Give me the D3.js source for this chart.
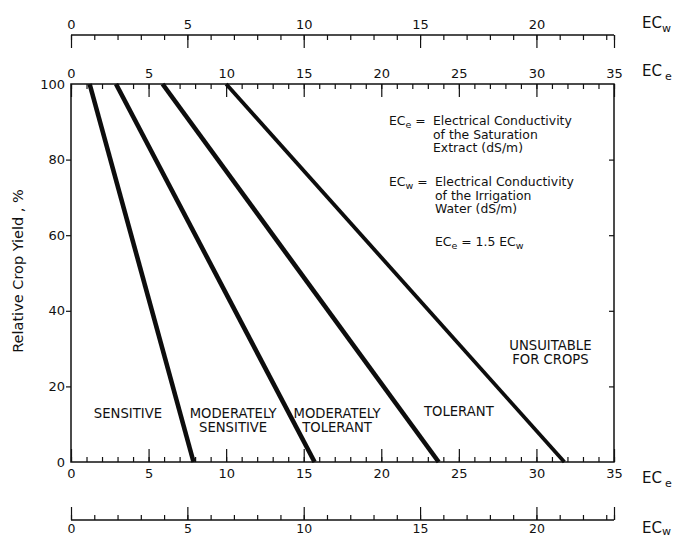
<!DOCTYPE html>
<html>
<head>
<meta charset="utf-8">
<script src="https://cdn.jsdelivr.net/npm/d3@7"></script>
<style>
  html, body { margin: 0; padding: 0; background: #fff; }
  svg { display: block; }
  text { font-family: "DejaVu Sans", sans-serif; fill: #111; }
</style>
</head>
<body>
<svg id="chart" width="674" height="539"></svg>
<script>
/* Crop tolerance to salinity: relative yield vs ECe / ECw */

// classes and the ECe (dS/m) where each boundary line hits 100 % and 0 % yield
const classes = ['Sensitive', 'Moderately sensitive', 'Moderately tolerant', 'Tolerant'];
const ecAt100 = [1.2, 2.9, 5.9, 10.0];
const ecAt0 = [7.9, 15.7, 23.7, 31.8];

const yieldTicks = [0, 20, 40, 60, 80, 100];
const eceLabels = [0, 5, 10, 15, 20, 25, 30, 35];
const ecwLabels = [0, 5, 10, 15, 20];
const ECE_PER_ECW = 1.5;

const regionNames = [
    ['SENSITIVE'],
    ['MODERATELY', 'SENSITIVE'],
    ['MODERATELY', 'TOLERANT'],
    ['TOLERANT'],
    ['UNSUITABLE', 'FOR CROPS'],
];

const W = 674, H = 539;
const LEFT = 71, RIGHT = 614, TOP = 84, BOTTOM = 462;
const MINOR = 5, MAJOR = 13;

const svg = d3.select('#chart');
const x = d3.scaleLinear().domain([0, 35]).range([LEFT, RIGHT]);
const xw = d3.scaleLinear().domain([0, 35 / ECE_PER_ECW]).range([LEFT, RIGHT]);
const y = d3.scaleLinear().domain([0, 100]).range([BOTTOM, TOP]);

const eceMinor = d3.range(0, 36, 1);
const ecwMinor = d3.range(0, 24, 1).concat([35 / ECE_PER_ECW]);
const ecwMajor = [0, 5, 10, 15, 20, 35 / ECE_PER_ECW];

function tickAxis(g, axis) {
    g.call(axis);
    g.select('.domain').remove();
    g.selectAll('.tick line').attr('stroke', '#111').attr('stroke-width', 1.2);
    g.selectAll('.tick text').remove();
}

function labelAxis(g, axis, size) {
    g.call(axis);
    g.select('.domain').remove();
    g.selectAll('.tick line').remove();
    g.selectAll('.tick text')
        .attr('font-size', size)
        .attr('fill', '#111');
}

/* Frame of the plot */
svg.append('rect')
    .attr('x', LEFT).attr('y', TOP)
    .attr('width', RIGHT - LEFT).attr('height', BOTTOM - TOP)
    .attr('fill', 'none').attr('stroke', '#111').attr('stroke-width', 1.5);

/* ECe ticks on top edge (pointing down) and bottom edge (pointing up) */
svg.append('g').attr('transform', `translate(0,${TOP})`)
    .call(tickAxis, d3.axisBottom(x).tickValues(eceMinor).tickSize(MINOR));
svg.append('g').attr('transform', `translate(0,${TOP})`)
    .call(tickAxis, d3.axisBottom(x).tickValues(eceLabels).tickSize(MAJOR));
svg.append('g').attr('transform', `translate(0,${BOTTOM})`)
    .call(tickAxis, d3.axisTop(x).tickValues(eceMinor).tickSize(MINOR));
svg.append('g').attr('transform', `translate(0,${BOTTOM})`)
    .call(tickAxis, d3.axisTop(x).tickValues(eceLabels).tickSize(MAJOR));

svg.append('g').attr('transform', `translate(0,${TOP - 6})`)
    .call(labelAxis, d3.axisTop(x).tickValues(eceLabels).tickSize(0).tickPadding(0), 13);
svg.append('g').attr('transform', `translate(0,${BOTTOM + 7})`)
    .call(labelAxis, d3.axisBottom(x).tickValues(eceLabels).tickSize(0).tickPadding(0), 13);

/* Yield axis: outer ticks on the left, inner ticks on the right */
svg.append('g').attr('transform', `translate(${LEFT},0)`)
    .call(tickAxis, d3.axisLeft(y).tickValues(yieldTicks.slice(1, -1)).tickSize(5));
svg.append('g').attr('transform', `translate(${RIGHT},0)`)
    .call(tickAxis, d3.axisLeft(y).tickValues(yieldTicks.slice(1, -1)).tickSize(5));
svg.append('g').attr('transform', `translate(${LEFT - 6},0)`)
    .call(labelAxis, d3.axisLeft(y).tickValues(yieldTicks).tickSize(0).tickPadding(0), 13);

/* ECw scales, above and below the plot */
const ECW_TOP = 35, ECW_BOTTOM = 520;
[[ECW_TOP, d3.axisBottom], [ECW_BOTTOM, d3.axisTop]].forEach(([yy, mk]) => {
    svg.append('line')
        .attr('x1', LEFT).attr('x2', RIGHT).attr('y1', yy).attr('y2', yy)
        .attr('stroke', '#111').attr('stroke-width', 1.5);
    svg.append('g').attr('transform', `translate(0,${yy})`)
        .call(tickAxis, mk(xw).tickValues(ecwMinor).tickSize(MINOR));
    svg.append('g').attr('transform', `translate(0,${yy})`)
        .call(tickAxis, mk(xw).tickValues(ecwMajor).tickSize(MAJOR));
});
svg.append('g').attr('transform', `translate(0,${ECW_TOP - 6})`)
    .call(labelAxis, d3.axisTop(xw).tickValues(ecwLabels).tickSize(0).tickPadding(0), 13);
svg.append('g').attr('transform', `translate(0,${ECW_BOTTOM + 4})`)
    .call(labelAxis, d3.axisBottom(xw).tickValues(ecwLabels).tickSize(0).tickPadding(0), 12.5);

/* EC unit labels at the right */
function ecLabel(yy, sub, subGap, subDy) {
    const t = svg.append('text').attr('x', 642).attr('y', yy).attr('font-size', 15);
    t.append('tspan').text('EC');
    t.append('tspan').attr('dx', subGap).attr('dy', subDy).attr('font-size', 11).text(sub);
}
ecLabel(28, 'w', 0, 4);
ecLabel(76, 'e', 3, 4);
ecLabel(483, 'e', 3, 4);
ecLabel(533, 'w', 0, 2);

/* Y title */
svg.append('text')
    .attr('transform', `translate(23,${(TOP + BOTTOM) / 2 - 2}) rotate(-90)`)
    .attr('text-anchor', 'middle')
    .attr('font-size', 14.5)
    .text('Relative  Crop Yield , %');

/* Class boundary lines */
const line = d3.line().x(d => x(d[0])).y(d => y(d[1]));
svg.append('g').selectAll('path')
    .data(classes.map((c, i) => [[ecAt100[i], 100], [ecAt0[i], 0]]))
    .join('path')
    .attr('d', line)
    .attr('fill', 'none')
    .attr('stroke', '#0d0d0d')
    .attr('stroke-width', (d, i) => i === 3 ? 3.8 : 4.6);

/* Region names, placed in ECe / yield units */
const regionPos = [[3.67, 11.6], [10.45, 11.6], [17.15, 11.6], [25.0, 12.1], [30.9, 29.6]];
regionNames.forEach((lines, i) => {
    const t = svg.append('text')
        .attr('x', x(regionPos[i][0]))
        .attr('y', y(regionPos[i][1]))
        .attr('text-anchor', 'middle')
        .attr('font-size', 13.2);
    lines.forEach((s, j) => {
        t.append('tspan').attr('x', x(regionPos[i][0])).attr('dy', j ? 14 : 0).text(s);
    });
});

/* Definitions block: term and first line of its meaning share one text */
const defs = svg.append('g').attr('font-size', 12.4);
function definition(xx, yy, sub, textX, lines) {
    const t = defs.append('text').attr('x', xx).attr('y', yy);
    t.append('tspan').text('EC');
    t.append('tspan').attr('dy', 3).attr('font-size', 9.5).text(sub);
    t.append('tspan').attr('dy', -3).text(' =');
    lines.forEach((s, j) => {
        t.append('tspan').attr('x', textX).attr('dy', j ? 13.5 : 0).text(s);
    });
}
definition(389, 125, 'e', 433, ['Electrical Conductivity', 'of the Saturation', 'Extract (dS/m)']);
definition(389, 186, 'w', 435, ['Electrical Conductivity', 'of the Irrigation', 'Water (dS/m)']);

const eq = defs.append('text').attr('x', 435).attr('y', 246);
eq.append('tspan').text('EC');
eq.append('tspan').attr('dy', 3).attr('font-size', 9.5).text('e');
eq.append('tspan').attr('dy', -3).text(` = ${ECE_PER_ECW} EC`);
eq.append('tspan').attr('dy', 3).attr('font-size', 9.5).text('w');
</script>
</body>
</html>
